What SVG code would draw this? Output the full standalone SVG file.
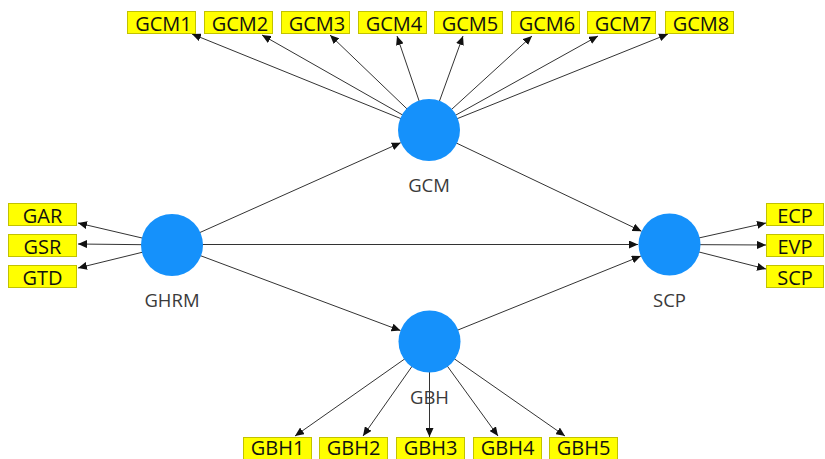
<svg xmlns="http://www.w3.org/2000/svg" width="825" height="459" viewBox="0 0 825 459">
  <defs>
    <marker id="arrow" markerUnits="userSpaceOnUse" markerWidth="10" markerHeight="8" refX="9" refY="4" orient="auto">
      <path d="M0,0 L9,4 L0,8 z" fill="#111"/>
    </marker>
    <style>
      .edge { stroke: #333; stroke-width: 1; fill: none; marker-end: url(#arrow); }
      .latent { fill: #1591fb; }
      .ind rect { fill: #ffff00; stroke: #c2c200; stroke-width: 1; }
      .ind text { font-family: "Open Sans", "Liberation Sans", sans-serif; font-size: 20px; fill: #111; text-anchor: middle; }
      .lbl { font-family: "Open Sans", "Liberation Sans", sans-serif; font-size: 18.5px; fill: #3a3a3a; text-anchor: middle; }
    </style>
  </defs>

  <!-- connectors -->
  <g id="connectors">
    <!-- structural paths -->
    <line class="edge" x1="172" y1="245" x2="400.7" y2="142.7"/>
    <line class="edge" x1="429" y1="130" x2="641.5" y2="231.2"/>
    <line class="edge" x1="172" y1="244.5" x2="638" y2="244.5"/>
    <line class="edge" x1="172" y1="245" x2="400.5" y2="330.6"/>
    <line class="edge" x1="429.5" y1="341.5" x2="640.8" y2="256.1"/>
    <!-- GCM loadings -->
    <line class="edge" x1="429" y1="130" x2="192" y2="34"/>
    <line class="edge" x1="429" y1="130" x2="262" y2="35"/>
    <line class="edge" x1="429" y1="130" x2="330" y2="35"/>
    <line class="edge" x1="429" y1="130" x2="397" y2="36"/>
    <line class="edge" x1="429" y1="130" x2="463" y2="36"/>
    <line class="edge" x1="429" y1="130" x2="532" y2="36"/>
    <line class="edge" x1="429" y1="130" x2="598" y2="36"/>
    <line class="edge" x1="429" y1="130" x2="668" y2="34"/>
    <!-- GHRM loadings -->
    <line class="edge" x1="172" y1="245" x2="78" y2="223"/>
    <line class="edge" x1="172" y1="245" x2="78" y2="244"/>
    <line class="edge" x1="172" y1="245" x2="78" y2="268"/>
    <!-- SCP loadings -->
    <line class="edge" x1="669.5" y1="244.5" x2="766" y2="223"/>
    <line class="edge" x1="669.5" y1="244.5" x2="766" y2="245"/>
    <line class="edge" x1="669.5" y1="244.5" x2="766" y2="269"/>
    <!-- GBH loadings -->
    <line class="edge" x1="429.5" y1="341.5" x2="295" y2="436"/>
    <line class="edge" x1="429.5" y1="341.5" x2="363" y2="436"/>
    <line class="edge" x1="429.5" y1="341.5" x2="429.5" y2="437"/>
    <line class="edge" x1="429.5" y1="341.5" x2="498" y2="436"/>
    <line class="edge" x1="429.5" y1="341.5" x2="565" y2="436"/>
  </g>

  <!-- latent constructs -->
  <g id="GCM">
    <circle class="latent" cx="429" cy="130" r="31"/>
    <text class="lbl" x="429" y="192">GCM</text>
  </g>
  <g id="GHRM">
    <circle class="latent" cx="172" cy="245" r="31"/>
    <text class="lbl" x="172" y="307">GHRM</text>
  </g>
  <g id="SCP">
    <circle class="latent" cx="669.5" cy="244.5" r="31"/>
    <text class="lbl" x="669.5" y="307">SCP</text>
  </g>
  <g id="GBH">
    <circle class="latent" cx="429.5" cy="341.5" r="31"/>
    <text class="lbl" x="429.5" y="404">GBH</text>
  </g>

  <!-- indicators: GCM -->
  <g id="GCM1" class="ind"><rect x="127.5" y="11.5" width="68" height="22"/><text x="163.5" y="31">GCM1</text></g>
  <g id="GCM2" class="ind"><rect x="204.5" y="11.5" width="68" height="22"/><text x="240" y="31">GCM2</text></g>
  <g id="GCM3" class="ind"><rect x="281.5" y="11.5" width="68" height="22"/><text x="317" y="31">GCM3</text></g>
  <g id="GCM4" class="ind"><rect x="358.5" y="11.5" width="68" height="22"/><text x="394" y="31">GCM4</text></g>
  <g id="GCM5" class="ind"><rect x="434.5" y="11.5" width="68" height="22"/><text x="470" y="31">GCM5</text></g>
  <g id="GCM6" class="ind"><rect x="511.5" y="11.5" width="68" height="22"/><text x="547" y="31">GCM6</text></g>
  <g id="GCM7" class="ind"><rect x="587.5" y="11.5" width="68" height="22"/><text x="623" y="31">GCM7</text></g>
  <g id="GCM8" class="ind"><rect x="665.5" y="11.5" width="68" height="22"/><text x="701" y="31">GCM8</text></g>

  <!-- indicators: GHRM -->
  <g id="GAR" class="ind"><rect x="8.5" y="203.5" width="68" height="22"/><text x="42.5" y="223">GAR</text></g>
  <g id="GSR" class="ind"><rect x="8.5" y="234.5" width="68" height="22"/><text x="42.5" y="254">GSR</text></g>
  <g id="GTD" class="ind"><rect x="8.5" y="265.5" width="68" height="22"/><text x="42.5" y="285">GTD</text></g>

  <!-- indicators: SCP -->
  <g id="ECP" class="ind"><rect x="766.5" y="203.5" width="57" height="22"/><text x="795" y="223">ECP</text></g>
  <g id="EVP" class="ind"><rect x="766.5" y="234.5" width="57" height="22"/><text x="795" y="254">EVP</text></g>
  <g id="SCP_ind" class="ind"><rect x="766.5" y="265.5" width="57" height="22"/><text x="795" y="285">SCP</text></g>

  <!-- indicators: GBH (bottom row sits on the lower edge) -->
  <g id="GBH1" class="ind"><rect x="243.5" y="437.5" width="68" height="22"/><text x="277.5" y="455">GBH1</text></g>
  <g id="GBH2" class="ind"><rect x="319.5" y="437.5" width="68" height="22"/><text x="353.5" y="455">GBH2</text></g>
  <g id="GBH3" class="ind"><rect x="396.5" y="437.5" width="68" height="22"/><text x="430.5" y="455">GBH3</text></g>
  <g id="GBH4" class="ind"><rect x="473.5" y="437.5" width="68" height="22"/><text x="507.5" y="455">GBH4</text></g>
  <g id="GBH5" class="ind"><rect x="549.5" y="437.5" width="68" height="22"/><text x="583.5" y="455">GBH5</text></g>
</svg>
